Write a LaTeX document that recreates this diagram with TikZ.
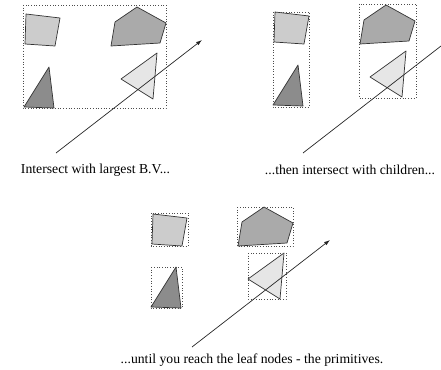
\documentclass[tikz,border=0pt]{standalone}
\usepackage{fontspec}
\setmainfont{Liberation Serif}
\usetikzlibrary{arrows.meta}

\definecolor{quadgray}{HTML}{CCCCCC}
\definecolor{pentgray}{HTML}{AAAAAA}
\definecolor{darktri}{HTML}{8C8C8C}
\definecolor{lighttri}{HTML}{E6E6E6}
\definecolor{edgegray}{HTML}{333333}

% the four primitives, in the coordinates of the first panel
\newcommand{\primitives}{%
  \draw[prim, fill=quadgray] (26,14) -- (60,18) -- (55,46) -- (25,44) -- cycle;
  \draw[prim, fill=pentgray] (115,22) -- (137,7) -- (166,23) -- (160,43) -- (111,46) -- cycle;
  \draw[prim, fill=darktri] (49,67) -- (54,108) -- (24,107) -- cycle;
  \draw[prim, fill=lighttri] (157,53) -- (153,99) -- (121,79) -- cycle;
}

\begin{document}
\begin{tikzpicture}[x=1pt, y=-1pt,
    prim/.style={draw=edgegray, line width=0.7pt, line join=round},
    bvbox/.style={draw=black!70, dotted, line width=0.7pt},
    ray/.style={draw=black!85, line width=0.7pt},
    caption/.style={font=\fontsize{13.7}{16}\selectfont, inner sep=0pt}]
  \useasboundingbox (0,0) rectangle (441,369);

  % Panel 1
  \primitives
  \draw[bvbox] (23,5) rectangle (166,108);
  \coordinate (rayA0) at (56,153);
  \coordinate (rayA1) at (202,40);
  \draw[ray, -{Latex[length=6pt, width=4pt]}] (rayA0) -- (rayA1);
  \node[caption] (capA) at (95.5,170) {Intersect with largest B.V...};

  % Panel 2
  \begin{scope}[shift={(249,-2)}]
    \primitives
    \draw[bvbox] (24,14) rectangle (60,109);
    \draw[bvbox] (110,6) rectangle (167,100);
  \end{scope}
  \coordinate (rayB0) at (303,153);
  \coordinate (rayB1) at (441,46);
  \draw[ray] (rayB0) -- (rayB1);
  \node[caption] (capB) at (350,170) {...then intersect with children...};

  % Panel 3
  \begin{scope}[shift={(127,200)}]
    \primitives
    \draw[bvbox] (24,13) rectangle (61,46);
    \draw[bvbox] (110,7) rectangle (166,46);
    \draw[bvbox] (24,67) rectangle (55,108);
    \draw[bvbox] (121,53) rectangle (159,99);
  \end{scope}
  \coordinate (rayC0) at (192,347);
  \coordinate (rayC1) at (330,240);
  \draw[ray, -{Latex[length=6pt, width=4pt]}] (rayC0) -- (rayC1);
  \node[caption] (capC) at (252,360) {...until you reach the leaf nodes - the primitives.};
\end{tikzpicture}
\end{document}
